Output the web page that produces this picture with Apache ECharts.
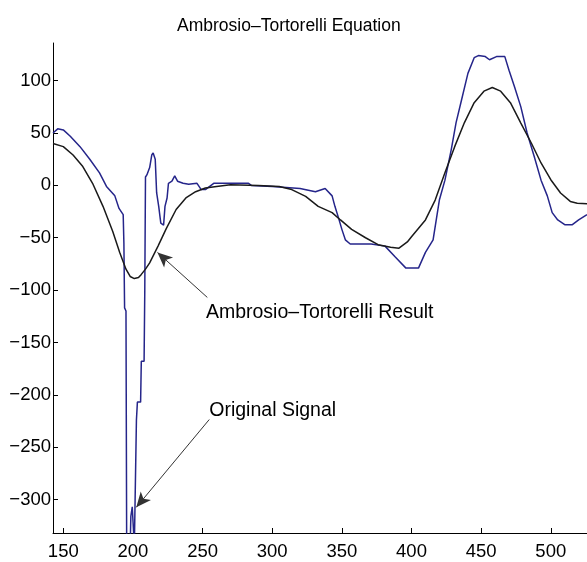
<!DOCTYPE html>
<html>
<head>
<meta charset="utf-8">
<title>Ambrosio-Tortorelli Equation</title>
<script src="https://cdn.jsdelivr.net/npm/echarts@6/dist/echarts.min.js"></script>
<style>
  html, body { margin: 0; padding: 0; background: #fff; }
  #chart { width: 587px; height: 562px; }
</style>
</head>
<body>
<div id="chart"></div>
<script>
// original (noisy) signal
var signalX = [142.6, 146, 150, 155, 162, 169, 176, 181, 187, 190, 193, 193.5, 194, 195, 195.5,
  198, 198.5, 199.5, 200.5, 201, 202, 202.5, 203, 203.2, 205.5, 206, 208, 208.5, 209, 210,
  212, 213.5, 214.5, 216, 217, 218.5, 220, 222, 223, 224.5, 225.5, 228, 230, 232, 236,
  240, 246, 249, 252, 258, 283, 285, 300, 320, 331, 338, 343, 345, 347.6, 350, 352.5,
  356, 371, 381, 388, 396, 405, 410, 415.5, 420, 424, 428.5, 432, 436, 440.5, 445, 448,
  453, 456, 461, 467, 470, 474, 478.5, 483, 488, 493, 497.5, 501, 505, 510, 515.5, 520, 526];
var signalY = [50, 54, 53, 47, 37, 25, 12, -1, -10, -22, -28, -55, -117, -120, -345,
  -345, -316, -307, -307, -345, -345, -224, -224, -207, -207, -168, -168, -100, 8, 10,
  17, 29, 31, 25, -7, -20, -36, -38, -20, -12, 2, 4, 9, 4, 2,
  1, 2, -4, -4, 2, 2, 0, -1, -3, -6, -3, -10, -20, -31, -42, -52,
  -56, -56, -58, -68, -79, -79, -64, -52, -14, 5, 34, 60, 82, 107, 122, 124,
  123, 120, 123, 123, 110, 94, 75, 50, 28, 5, -10, -26, -33, -37.5, -37.5, -33, -28];

// Ambrosio-Tortorelli result (smoothed)
var resultX = [142.6, 150, 157, 164, 171, 178.5, 185.5, 190.5, 195, 198, 201, 204, 206, 209,
  212, 218, 224, 231, 238, 245, 252, 260, 270, 290, 305, 314, 324, 333, 343, 349, 357,
  367, 376, 385, 391, 397, 400, 410, 417, 424, 431, 438, 445, 452, 458, 464, 471, 478.5,
  486, 493, 500, 507, 514, 519, 526];
var resultY = [40, 37, 29, 18, 2, -20, -44, -64, -80, -87, -89, -88, -85, -80,
  -74, -58, -41, -23, -12, -6, -2.5, -1, 0.5, 0, -1, -4, -10.5, -20, -26, -33, -42,
  -50, -56.6, -59, -60, -54, -49, -33, -14, 12, 37, 60, 79, 90, 93.5, 90, 79, 59.5,
  40.5, 21.4, 5.4, -7.3, -15.3, -17, -17.5];

var xTicks = [150, 200, 250, 300, 350, 400, 450, 500];
var yTicks = [-300, -250, -200, -150, -100, -50, 0, 50, 100];

// annotation text anchors and arrows (data coordinates)
var resultNote = { text: 'Ambrosio\u2013Tortorelli Result', at: [252.4, -121.6], tail: [253.4, -107], tip: [217.6, -64] };
var signalNote = { text: 'Original Signal', at: [254.8, -215], tail: [254.8, -223.6], tip: [202.4, -307.5] };

function pairs(xs, ys) {
  return xs.map(function (x, i) { return [x, ys[i]]; });
}
function minus(v) {
  return String(v).replace('-', '\u2212');
}

var FONT = '"Liberation Sans", Arial, Helvetica, sans-serif';
var chart = echarts.init(document.getElementById('chart'));

var axisCommon = {
  type: 'value',
  splitLine: { show: false },
  axisLine: { show: true, onZero: false, lineStyle: { color: '#000', width: 1 } },
  axisTick: { show: true, inside: true, length: 5, lineStyle: { color: '#000' } },
  axisLabel: { color: '#000', fontFamily: FONT, fontSize: 18.5, formatter: minus }
};

var option = {
  animation: false,
  backgroundColor: '#fff',
  title: {
    text: 'Ambrosio\u2013Tortorelli Equation',
    left: 172,
    top: 12,
    textStyle: { color: '#000', fontFamily: FONT, fontSize: 17.5, fontWeight: 'normal' }
  },
  grid: { left: 53, right: 0, top: 43, bottom: 29, containLabel: false },
  xAxis: echarts.util.merge({
    min: 142.6, max: 526,
    axisTick: { customValues: xTicks },
    axisLabel: { customValues: xTicks, margin: 9 }
  }, axisCommon),
  yAxis: echarts.util.merge({
    min: -332, max: 136,
    axisTick: { customValues: yTicks },
    axisLabel: { customValues: yTicks, margin: 2 }
  }, axisCommon),
  series: [
    {
      name: 'Original Signal',
      type: 'line',
      data: pairs(signalX, signalY),
      showSymbol: false,
      clip: true,
      lineStyle: { color: '#25258a', width: 1.5 },
      z: 2
    },
    {
      name: 'Ambrosio-Tortorelli Result',
      type: 'line',
      data: pairs(resultX, resultY),
      showSymbol: false,
      clip: true,
      lineStyle: { color: '#1a1a1a', width: 1.5 },
      z: 3,
      markLine: {
        silent: true,
        symbol: ['none', 'arrow'],
        symbolSize: [10, 15],
        label: { show: false },
        lineStyle: { color: '#333', width: 1, type: 'solid' },
        itemStyle: { color: '#000' },
        data: [
          [{ coord: resultNote.tail }, { coord: resultNote.tip }],
          [{ coord: signalNote.tail }, { coord: signalNote.tip }]
        ]
      }
    }
  ]
};
chart.setOption(option);

// annotation texts placed from data coordinates
var notes = [resultNote, signalNote].map(function (n) {
  var p = chart.convertToPixel({ gridIndex: 0 }, n.at);
  return {
    type: 'text',
    x: p[0],
    y: p[1],
    style: {
      text: n.text,
      fill: '#000',
      font: '19.5px ' + FONT,
      align: 'left',
      verticalAlign: 'middle'
    }
  };
});
chart.setOption({ graphic: notes });
</script>
</body>
</html>
